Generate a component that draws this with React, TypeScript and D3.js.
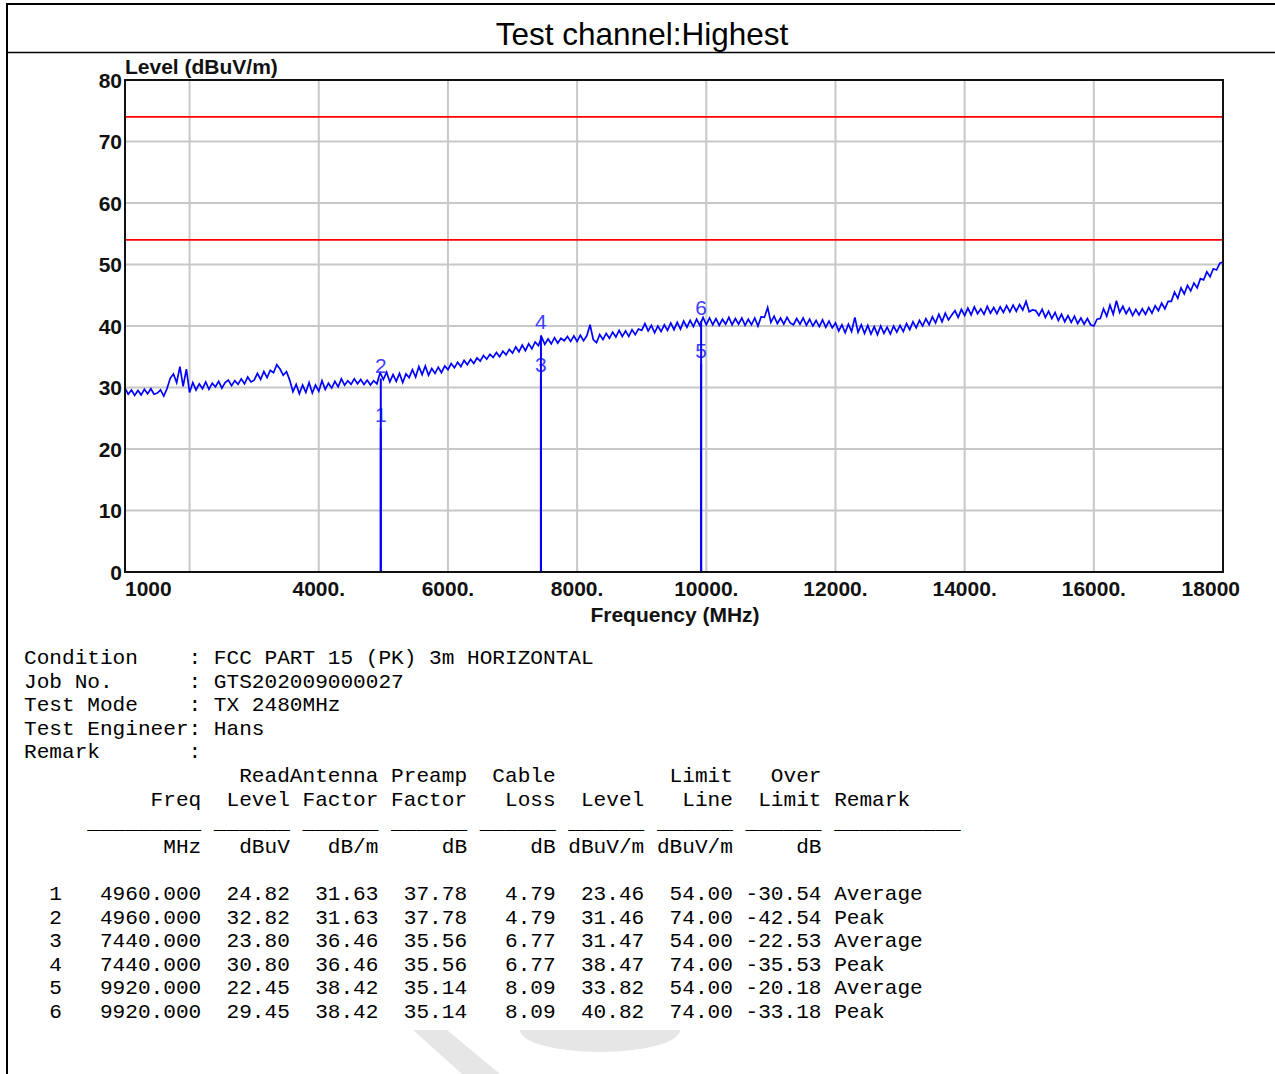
import React from "react";
import * as d3 from "d3";

// measured trace, 1000 MHz .. 18000 MHz every 50 MHz (dBuV/m)
const traceStartMHz = 1000;
const traceStepMHz = 50;
const levelTrace = [
  29.9, 28.9, 29.6, 28.7, 29.5, 28.8, 29.7, 29.0, 29.8, 28.9, 29.1, 29.6, 28.6, 29.8, 31.5, 32.2, 30.8, 33.4, 30.2, 33.0,
  29.2, 30.8, 29.6, 30.6, 29.8, 30.9, 29.7, 30.7, 30.1, 31.0, 29.9, 30.8, 31.2, 30.3, 31.1, 30.5, 31.4, 30.6, 31.7, 30.9,
  31.2, 32.3, 31.3, 32.6, 31.6, 32.8, 32.4, 33.7, 33.0, 32.0, 32.6, 31.2, 29.3, 30.5, 29.0, 30.4, 29.2, 30.8, 29.1, 30.4,
  29.4, 31.1, 29.7, 30.7, 29.9, 31.0, 30.1, 31.4, 30.4, 31.1, 30.5, 31.4, 30.6, 31.3, 30.5, 31.2, 30.4, 31.1, 30.6, 32.4,
  31.3, 32.5, 30.9, 32.1, 31.0, 32.3, 30.8, 32.2, 31.6, 32.9, 31.7, 33.4, 32.1, 33.5, 32.0, 33.1, 32.3, 33.3, 32.4, 33.5,
  32.9, 33.9, 33.2, 34.1, 33.4, 34.4, 33.7, 34.6, 33.9, 34.8, 34.3, 35.2, 34.6, 35.4, 34.9, 35.7, 35.0, 35.9, 35.3, 36.2,
  35.6, 36.6, 35.8, 36.9, 36.0, 37.1, 36.3, 37.4, 36.8, 38.2, 37.0, 37.9, 37.1, 38.1, 37.2, 38.0, 37.6, 38.3, 37.5, 38.4,
  37.5, 38.5, 37.6, 38.4, 40.2, 37.8, 37.3, 38.6, 37.8, 38.8, 38.0, 39.0, 38.2, 39.3, 38.3, 39.2, 38.3, 39.4, 38.6, 39.5,
  39.3, 40.4, 39.2, 40.1, 38.9, 40.0, 39.1, 40.2, 39.3, 40.5, 39.4, 40.6, 39.5, 40.8, 39.8, 40.9, 39.9, 41.1, 40.1, 41.4,
  40.2, 41.3, 40.2, 41.2, 40.1, 41.1, 40.3, 41.4, 40.2, 41.2, 40.3, 41.3, 40.1, 41.1, 40.2, 41.3, 40.0, 41.5, 41.4, 43.0,
  40.6, 41.6, 40.4, 41.3, 40.3, 41.4, 40.5, 40.2, 41.2, 40.3, 41.3, 40.1, 41.1, 40.0, 40.9, 39.9, 41.0, 39.8, 40.8, 39.7,
  40.5, 39.2, 40.2, 38.9, 40.3, 39.1, 41.4, 39.0, 40.2, 38.8, 40.1, 38.7, 39.9, 38.6, 40.0, 38.8, 39.8, 38.7, 40.0, 39.0,
  40.1, 39.1, 40.4, 39.4, 40.7, 39.7, 40.9, 40.0, 41.2, 40.2, 41.5, 40.5, 41.9, 40.7, 42.1, 41.0, 41.8, 42.5, 41.4, 42.7,
  41.7, 42.9, 41.8, 43.1, 42.0, 42.8, 41.9, 43.2, 42.1, 43.0, 42.0, 43.1, 42.2, 43.3, 42.3, 43.4, 42.4, 43.5, 42.6, 44.0,
  42.3, 42.6, 42.5, 41.7, 42.7, 41.4, 42.4, 41.2, 42.2, 40.9, 41.9, 40.7, 41.7, 40.6, 41.6, 40.4, 41.3, 40.3, 41.2, 40.2,
  40.0, 41.1, 41.2, 42.8, 41.6, 43.4, 41.9, 44.1, 42.2, 43.2, 42.0, 42.9, 41.7, 42.7, 41.8, 42.8, 41.9, 43.0, 42.1, 43.3,
  42.5, 43.7, 42.8, 44.0, 44.0, 45.5, 44.5, 46.2, 45.2, 46.6, 45.7, 47.0, 46.2, 47.7, 47.5, 48.8, 48.0, 49.3, 49.1, 50.2,
  50.4,
];

const limitLevels = [74, 54];
const yTicks = [0, 10, 20, 30, 40, 50, 60, 70, 80];
const xGridMHz = [2000, 4000, 6000, 8000, 10000, 12000, 14000, 16000];
const xTickValues = [1000, 4000, 6000, 8000, 10000, 12000, 14000, 16000, 18000];
const xTickLabels = ["1000", "4000.", "6000.", "8000.", "10000.", "12000.", "14000.", "16000.", "18000"];

// marker table
const markerNo = [1, 2, 3, 4, 5, 6];
const markerFreq = [4960, 4960, 7440, 7440, 9920, 9920];
const readLevel = [24.82, 32.82, 23.8, 30.8, 22.45, 29.45];
const antennaFactor = [31.63, 31.63, 36.46, 36.46, 38.42, 38.42];
const preampFactor = [37.78, 37.78, 35.56, 35.56, 35.14, 35.14];
const cableLoss = [4.79, 4.79, 6.77, 6.77, 8.09, 8.09];
const markerLevel = [23.46, 31.46, 31.47, 38.47, 33.82, 40.82];
const limitLine = [54, 74, 54, 74, 54, 74];
const overLimit = [-30.54, -42.54, -22.53, -35.53, -20.18, -33.18];
const remark = ["Average", "Peak", "Average", "Peak", "Average", "Peak"];

const infoLabels = ["Condition", "Job No.", "Test Mode", "Test Engineer", "Remark"];
const infoValues = ["FCC PART 15 (PK) 3m HORIZONTAL", "GTS202009000027", "TX 2480MHz", "Hans", ""];

const headTop = ["", "Read", "Antenna", "Preamp", "Cable", "", "Limit", "Over", ""];
const headMid = ["Freq", "Level", "Factor", "Factor", "Loss", "Level", "Line", "Limit", "Remark"];
const headDash = ["_________", "______", "______", "______", "______", "______", "______", "______", "__________"];
const headUnit = ["MHz", "dBuV", "dB/m", "dB", "dB", "dBuV/m", "dBuV/m", "dB", ""];

const W = 1275;
const H = 1074;
const plot = { left: 125, right: 1223, top: 80, bottom: 572 };
const colW = [14, 7, 7, 7, 7, 7, 7, 7];

const x = d3.scaleLinear().domain([1000, 18000]).range([plot.left, plot.right]);
const y = d3.scaleLinear().domain([0, 80]).range([plot.bottom, plot.top]);

function fmtRow(cells: string[]) {
  let s = "";
  cells.forEach((c, i) => {
    if (i < colW.length) s += c.padStart(colW[i]);
    else s += " " + c;
  });
  return s;
}

const App = () => {
  const tracePts: [number, number][] = levelTrace.map((v, i) => [traceStartMHz + i * traceStepMHz, v]);
  const line = d3
    .line<[number, number]>()
    .x((d) => x(d[0]))
    .y((d) => y(d[1]));

  const bold = { fontFamily: "'Liberation Sans', Arial, sans-serif", fontWeight: 700, fontSize: 21 };
  const mono = { fontFamily: "'Liberation Mono', monospace", fontSize: 21.1, whiteSpace: "pre" as const };

  const lineH = 23.6;
  const textTop = 664;
  const infoLines = infoLabels.map((l, i) => l.padEnd(13) + ": " + infoValues[i]);
  const tableRows = markerNo.map((n, i) =>
    fmtRow([
      String(n).padStart(3) + markerFreq[i].toFixed(3).padStart(11),
      readLevel[i].toFixed(2),
      antennaFactor[i].toFixed(2),
      preampFactor[i].toFixed(2),
      cableLoss[i].toFixed(2),
      markerLevel[i].toFixed(2),
      limitLine[i].toFixed(2),
      overLimit[i].toFixed(2),
      remark[i],
    ])
  );

  return (
    <svg width={W} height={H} style={{ position: "absolute", left: 0, top: 0, background: "#fff" }}>
      {/* frame */}
      <line x1={7} x2={W} y1={4} y2={4} stroke="#000" strokeWidth={2} />
      <line x1={7} x2={7} y1={3} y2={H} stroke="#000" strokeWidth={2} />
      <line x1={7} x2={W} y1={52.5} y2={52.5} stroke="#000" strokeWidth={1.3} />
      <text x={642} y={45} textAnchor="middle" fontFamily="'Liberation Sans', Arial, sans-serif" fontSize={31.5}>
        Test channel:Highest
      </text>

      {/* grid */}
      {xGridMHz.map((f) => (
        <line key={f} x1={x(f)} x2={x(f)} y1={plot.top} y2={plot.bottom} stroke="#c8c8c8" strokeWidth={2} />
      ))}
      {yTicks.slice(1, -1).map((t) => (
        <line key={t} x1={plot.left} x2={plot.right} y1={y(t)} y2={y(t)} stroke="#c8c8c8" strokeWidth={2} />
      ))}

      {/* limits */}
      {limitLevels.map((l) => (
        <line key={l} x1={plot.left} x2={plot.right} y1={y(l)} y2={y(l)} stroke="#ff0000" strokeWidth={1.6} />
      ))}

      {/* trace */}
      <path d={line(tracePts) || ""} fill="none" stroke="#0000ff" strokeWidth={1.7} />

      {/* markers */}
      {markerNo.map((n, i) => (
        <g key={n}>
          <line
            x1={x(markerFreq[i])}
            x2={x(markerFreq[i])}
            y1={y(0)}
            y2={y(markerLevel[i])}
            stroke="#0000ff"
            strokeWidth={2}
          />
          <text
            x={x(markerFreq[i])}
            y={y(markerLevel[i]) - 6}
            textAnchor="middle"
            fontFamily="'Liberation Sans', Arial, sans-serif"
            fontSize={21}
            fill="#4040ff"
          >
            {n}
          </text>
        </g>
      ))}

      {/* plot border */}
      <rect
        x={plot.left}
        y={plot.top}
        width={plot.right - plot.left}
        height={plot.bottom - plot.top}
        fill="none"
        stroke="#111"
        strokeWidth={2}
      />

      {/* y axis */}
      {yTicks.map((t) => (
        <text key={t} x={122} y={y(t) + 7.5} textAnchor="end" style={bold} fill="#111">
          {t}
        </text>
      ))}
      <text x={125} y={74} style={bold} fill="#111">
        Level (dBuV/m)
      </text>

      {/* x axis */}
      {xTickValues.map((f, i) => (
        <text
          key={f}
          x={i === xTickValues.length - 1 ? 1240 : x(f)}
          y={596}
          textAnchor={i === 0 ? "start" : i === xTickValues.length - 1 ? "end" : "middle"}
          style={bold}
          fill="#111"
        >
          {xTickLabels[i]}
        </text>
      ))}
      <text x={675} y={622} textAnchor="middle" style={bold} fill="#111">
        Frequency (MHz)
      </text>

      {/* info + table */}
      {infoLines.map((s, i) => (
        <text key={"info" + i} x={24} y={textTop + i * lineH} style={mono} fill="#000">
          {s}
        </text>
      ))}
      <text x={24} y={textTop + 5 * lineH} style={mono} fill="#000">
        {fmtRow(headTop)}
      </text>
      <text x={24} y={textTop + 6 * lineH} style={mono} fill="#000">
        {fmtRow(headMid)}
      </text>
      <text x={24} y={textTop + 7 * lineH} style={mono} fill="#000">
        {fmtRow(headDash)}
      </text>
      <text x={24} y={textTop + 8 * lineH} style={mono} fill="#000">
        {fmtRow(headUnit)}
      </text>
      {tableRows.map((s, i) => (
        <text key={"row" + i} x={24} y={textTop + (10 + i) * lineH} style={mono} fill="#000">
          {s}
        </text>
      ))}

      {/* faint watermark */}
      <polygon points="413,1030 447,1030 500,1074 462,1074" fill="#e6e6e6" />
      <path d="M520,1030 L680,1030 A80,22 0 0 1 520,1030 Z" fill="#e6e6e6" />
    </svg>
  );
};

export default App;
